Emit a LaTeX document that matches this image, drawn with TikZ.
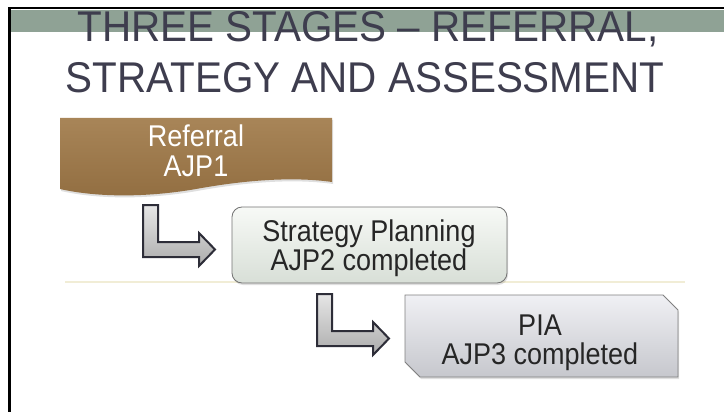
\documentclass[tikz,border=0pt]{standalone}
\usepackage{fontspec}
\setmainfont{Liberation Sans}
\newfontfamily\titlefont[FakeStretch=0.94]{Liberation Sans}
\newfontfamily\boxfont[FakeStretch=0.9]{Liberation Sans}
\usetikzlibrary{shadows}

\definecolor{bandgreen}{RGB}{143,162,149}
\definecolor{titleink}{RGB}{62,61,78}
\definecolor{brownA}{RGB}{168,133,88}
\definecolor{brownB}{RGB}{146,110,65}
\definecolor{stratA}{RGB}{247,249,246}
\definecolor{stratB}{RGB}{216,223,215}
\definecolor{piaA}{RGB}{240,240,244}
\definecolor{piaB}{RGB}{198,199,205}
\definecolor{arrowink}{RGB}{45,45,56}
\definecolor{ruleline}{RGB}{241,237,214}

\begin{document}
\begin{tikzpicture}[x=1pt, y=-1pt,
    headline/.style={font=\titlefont\fontsize{43}{49}\selectfont, text=titleink, anchor=base, inner sep=0pt},
    boxtxt/.style={font=\boxfont\fontsize{30}{29.5}\selectfont, align=center, text=black!85, inner sep=0pt},
    shadowed/.style={drop shadow={opacity=0.25, shadow xshift=1pt, shadow yshift=-2pt}},
    refshape/.style={top color=brownA, bottom color=brownB, shadowed},
    stepbox/.style={draw=black!55, line width=0.8pt, rounded corners=10pt, minimum width=275pt, minimum height=76pt, top color=stratA, bottom color=stratB, shadowed},
    piashape/.style={draw=black!50, line width=0.8pt, line join=miter, top color=piaA, bottom color=piaB, shadowed},
    barrow/.style={draw=arrowink, line width=2pt, line join=miter, top color=gray!20, bottom color=gray!65},
    pics/bentarrow/.style={code={
        \path[barrow] (0,0) -- (15,0) -- (15,37) -- (56,37) -- (56,28) -- (72,44.5) -- (56,61) -- (56,52) -- (0,52) -- cycle;
    }}
]
\useasboundingbox (0,0) rectangle (724,412);
\fill[white] (0,0) rectangle (724,412);

% slide frame and title band
\fill[bandgreen] (11,10) rectangle (724,32);
\draw[line width=2.5pt] (9.5,412) -- (9.5,8) -- (724,8);
\node[headline] (T1) at (368,42) {THREE STAGES – REFERRAL,};
\node[headline] (T2) at (365,93) {STRATEGY AND ASSESSMENT};

\draw[ruleline, line width=1.5pt] (65,282) -- (685,282);

% stage 1
\path[refshape] (60,118) -- (332,118) -- (332,182) .. controls (290,176) and (240,181) .. (196,189) .. controls (150,197) and (100,198) .. (60,189) -- cycle;
\node[boxtxt, text=white] (R) at (196,151) {Referral\\AJP1};

% stage 2
\node[stepbox] (S) at (369.5,245) {};
\node[boxtxt] (Stxt) at (369,248) {Strategy Planning\\AJP2 completed};

% stage 3
\path[piashape] (405,295) -- (663,295) -- (678,310) -- (678,377) -- (420,377) -- (405,362) -- cycle;
\node[boxtxt] (P) at (540,343) {PIA\\AJP3 completed};

% step arrows
\pic at (143,205) {bentarrow};
\pic at (317,294) {bentarrow};
\end{tikzpicture}
\end{document}
